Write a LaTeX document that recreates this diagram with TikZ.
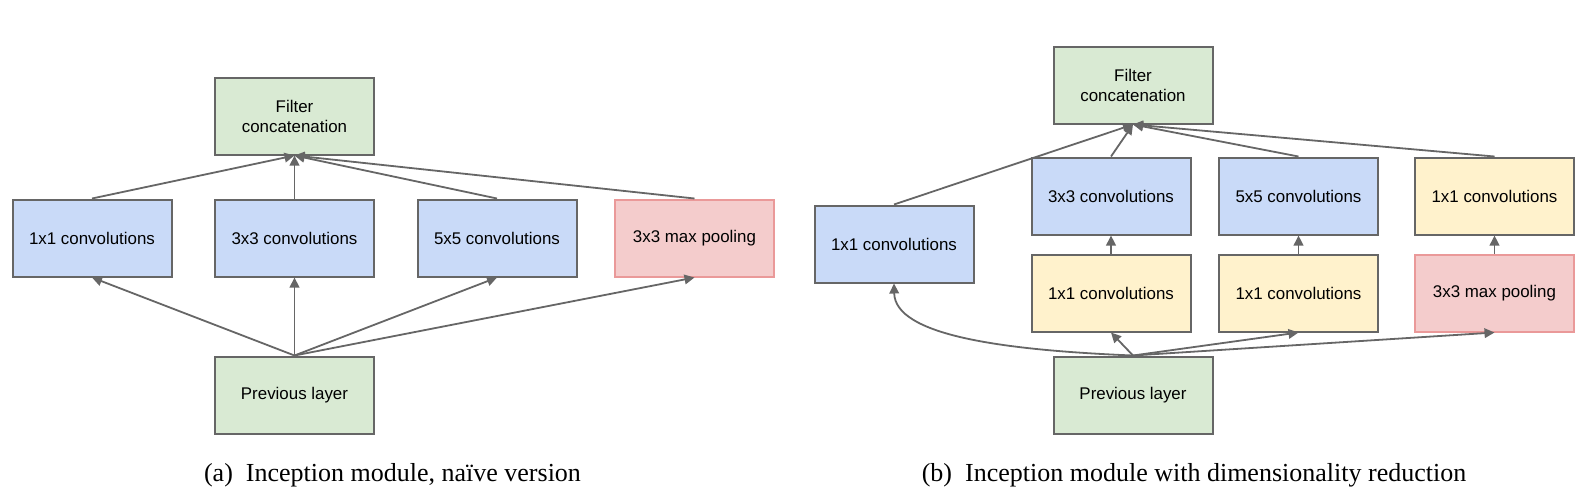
\documentclass[tikz,border=0pt]{standalone}
\usepackage{fontspec}
\setmainfont{Liberation Serif}
\newfontfamily\boxfont{Liberation Sans}
\usetikzlibrary{arrows.meta}
\definecolor{fgreen}{HTML}{D9EAD3}
\definecolor{fblue}{HTML}{C9DAF8}
\definecolor{fyellow}{HTML}{FFF2CC}
\definecolor{fred}{HTML}{F4CCCC}
\definecolor{bred}{HTML}{EA9999}
\definecolor{lgray}{HTML}{666666}
\begin{document}
\begin{tikzpicture}[x=0.5pt,y=-0.5pt,
  blk/.style={draw=lgray, line width=1pt, minimum width=79.5pt, minimum height=38.5pt,
    inner sep=0pt, align=center, font=\boxfont\fontsize{8.45}{10}\selectfont, text=black},
  gbox/.style={blk, fill=fgreen},
  bbox/.style={blk, fill=fblue},
  ybox/.style={blk, fill=fyellow},
  rbox/.style={blk, fill=fred, draw=bred},
  conn/.style={draw=lgray, line width=0.9pt, -{Triangle[length=5pt,width=4.8pt]}},
  captext/.style={font=\fontsize{13}{15}\selectfont, anchor=base, inner sep=0pt}
]
\useasboundingbox (0,0) rectangle (1594,500);

% (a) naive
\node[gbox] (fcA) at (294.5,116) {Filter\\concatenation};
\node[bbox] (c1A) at (92,238) {1x1 convolutions};
\node[bbox] (c3A) at (294.5,238) {3x3 convolutions};
\node[bbox] (c5A) at (497,238) {5x5 convolutions};
\node[rbox] (mpA) at (694.5,238) {3x3 max pooling};
\node[gbox] (prevA) at (294.5,395) {Previous layer};

\foreach \n in {c1A,c3A,c5A,mpA}{
  \draw[conn] (prevA.north) -- (\n.south);
  \draw[conn] (\n.north) -- (fcA.south);
}

% (b) with dimensionality reduction
\node[gbox] (fcB) at (1133,85) {Filter\\concatenation};
\node[bbox] (c1B) at (894,244) {1x1 convolutions};
\node[bbox] (c3B) at (1111,196) {3x3 convolutions};
\node[ybox] (r3B) at (1111,293) {1x1 convolutions};
\node[bbox] (c5B) at (1298.5,196) {5x5 convolutions};
\node[ybox] (r5B) at (1298.5,293) {1x1 convolutions};
\node[ybox] (cpB) at (1494.5,196) {1x1 convolutions};
\node[rbox] (mpB) at (1494.5,293) {3x3 max pooling};
\node[gbox] (prevB) at (1133,395) {Previous layer};

\draw[conn] (prevB.north) .. controls (1000,350) and (895,335) .. (c1B.south);
\draw[conn] (prevB.north) -- (r3B.south);
\draw[conn] (prevB.north) -- (r5B.south);
\draw[conn] (prevB.north) -- (mpB.south);
\draw[conn] (r3B.north) -- (c3B.south);
\draw[conn] (r5B.north) -- (c5B.south);
\draw[conn] (mpB.north) -- (cpB.south);
\foreach \n in {c1B,c3B,c5B,cpB}{
  \draw[conn] (\n.north) -- (fcB.south);
}

\node[captext] (capA) at (392.5,481) {(a)\hspace{0.5em}Inception module, naïve version};
\node[captext] (capB) at (1194,481) {(b)\hspace{0.5em}Inception module with dimensionality reduction};
\end{tikzpicture}
\end{document}
